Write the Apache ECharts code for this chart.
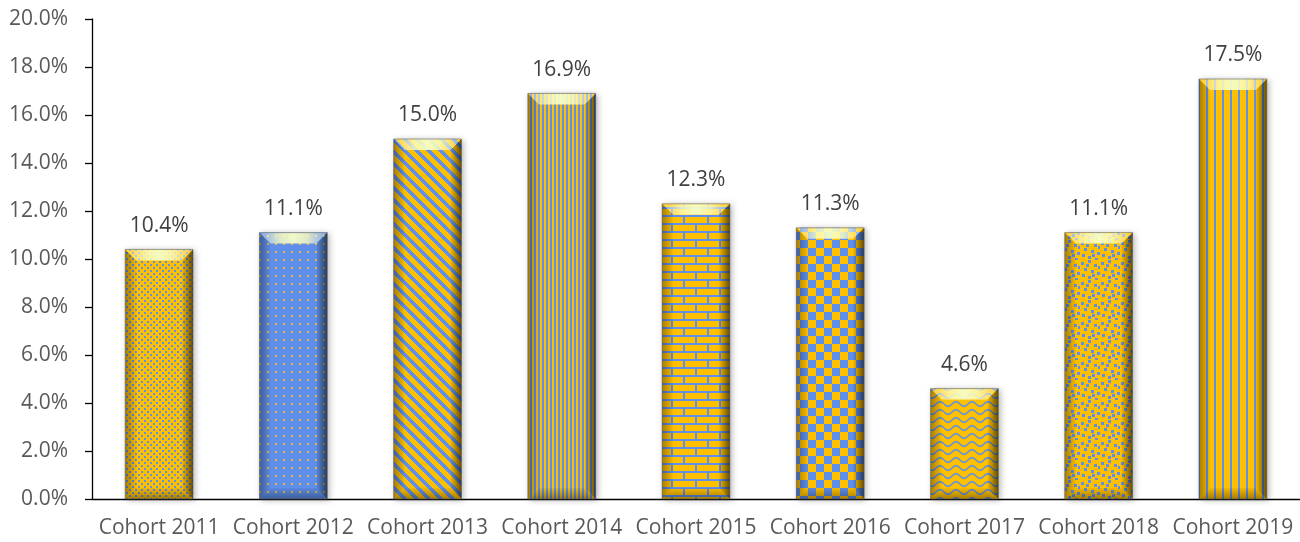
<!DOCTYPE html>
<html>
<head>
<meta charset="utf-8">
<script src="https://cdn.jsdelivr.net/npm/echarts@6/dist/echarts.min.js"></script>
<style>html,body{margin:0;padding:0;background:#fff;}#c{width:1300px;height:542px;}</style>
</head>
<body>
<div id="c"></div>
<script>
var CATEGORIES = ['Cohort 2011','Cohort 2012','Cohort 2013','Cohort 2014','Cohort 2015','Cohort 2016','Cohort 2017','Cohort 2018','Cohort 2019'];
var VALUES = [10.4, 11.1, 15.0, 16.9, 12.3, 11.3, 4.6, 11.1, 17.5];
var Y_MIN = 0, Y_MAX = 20, Y_INTERVAL = 2;

var YEL = '#FFC000', BLU = '#5F8FEA';
function tile(w, h, draw) {
  var c = document.createElement('canvas'); c.width = w; c.height = h;
  var g = c.getContext('2d'); draw(g, w, h); return c;
}
var patterns = [
  tile(6, 6, function (g) { g.fillStyle = YEL; g.fillRect(0,0,6,6); g.fillStyle = BLU; g.fillRect(0,0,2,2); g.fillRect(3,3,2,2); }),
  tile(8, 8, function (g) { g.fillStyle = BLU; g.fillRect(0,0,8,8); g.fillStyle = '#E8C040'; g.fillRect(3,3,2,2); }),
  tile(12, 12, function (g) { for (var y=0;y<12;y++) for (var x=0;x<12;x++) { g.fillStyle = ((x - y + 12) % 12 < 5) ? BLU : YEL; g.fillRect(x,y,1,1); } }),
  tile(4, 4, function (g) { g.fillStyle = YEL; g.fillRect(0,0,2,4); g.fillStyle = BLU; g.fillRect(2,0,2,4); }),
  tile(24, 16, function (g) { g.fillStyle = BLU; g.fillRect(0,0,24,16); g.fillStyle = YEL; g.fillRect(1,1,22,6); g.fillRect(0,9,11,6); g.fillRect(13,9,11,6); }),
  tile(16, 16, function (g) { g.fillStyle = YEL; g.fillRect(0,0,16,16); g.fillStyle = BLU; g.fillRect(0,0,8,8); g.fillRect(8,8,8,8); }),
  tile(16, 8, function (g) { g.fillStyle = YEL; g.fillRect(0,0,16,8); g.strokeStyle = BLU; g.lineWidth = 1.6; g.beginPath();
    for (var x=0;x<=16;x++) { var y = 4 + 2.3*Math.sin(2*Math.PI*x/16); if (x===0) g.moveTo(x,y); else g.lineTo(x,y); } g.stroke(); }),
  tile(20, 20, function (g) { g.fillStyle = YEL; g.fillRect(0,0,20,20); g.fillStyle = BLU;
    [[1,2],[8,0],[14,4],[4,8],[11,10],[17,12],[2,14],[8,16],[15,18],[18,6],[6,4],[12,14]].forEach(function(p){ g.fillRect(p[0],p[1],3,3); }); }),
  tile(8, 4, function (g) { g.fillStyle = YEL; g.fillRect(0,0,8,4); g.fillStyle = BLU; g.fillRect(6,0,2,4); })
];

var barData = VALUES.map(function (v, i) {
  return { value: v, itemStyle: { color: { image: patterns[i], repeat: 'repeat' } } };
});
var bevelData = VALUES.map(function (v, i) { return [i, v]; });

var LG = echarts.graphic.LinearGradient;
function renderBevel(params, api) {
  var idx = api.value(0), v = api.value(1);
  var t = api.coord([idx, v]), bt = api.coord([idx, 0]);
  var w = api.size([1, 0])[0] * 0.505;
  var x0 = t[0] - w / 2, x1 = t[0] + w / 2, y0 = t[1], y1 = bt[1];
  var b = Math.min(11, (y1 - y0) / 3);
  return { type: 'group', children: [
    { type: 'polygon', shape: { points: [[x0,y0],[x0+b,y0+b],[x0+b,y1-b],[x0,y1]] },
      style: { fill: new LG(0,0,1,0,[{offset:0,color:'rgba(0,0,0,0.35)'},{offset:1,color:'rgba(0,0,0,0.04)'}]) } },
    { type: 'polygon', shape: { points: [[x1,y0],[x1-b,y0+b],[x1-b,y1-b],[x1,y1]] },
      style: { fill: new LG(0,0,1,0,[{offset:0,color:'rgba(0,0,0,0.04)'},{offset:1,color:'rgba(0,0,0,0.6)'}]) } },
    { type: 'polygon', shape: { points: [[x0,y0],[x1,y0],[x1-b,y0+b],[x0+b,y0+b]] },
      style: { fill: new LG(0,0,1,0,[{offset:0,color:'rgba(255,255,230,0.2)'},{offset:0.3,color:'rgba(255,255,190,0.8)'},{offset:0.5,color:'rgba(245,255,200,0.95)'},{offset:0.7,color:'rgba(255,255,190,0.8)'},{offset:1,color:'rgba(255,255,230,0.2)'}]) } },
    { type: 'polygon', shape: { points: [[x0,y1],[x1,y1],[x1-b,y1-b],[x0+b,y1-b]] },
      style: { fill: new LG(0,0,0,1,[{offset:0,color:'rgba(0,0,0,0.04)'},{offset:1,color:'rgba(0,0,0,0.35)'}]) } },
    { type: 'rect', shape: { x: x0, y: y0, width: w, height: y1 - y0 },
      style: { fill: null, stroke: 'rgba(90,90,90,0.55)', lineWidth: 1 } }
  ] };
}

var chart = echarts.init(document.getElementById('c'), null, { renderer: 'canvas' });
chart.setOption({
  animation: false,
  backgroundColor: '#ffffff',
  grid: { left: 92, right: 0, top: 19, bottom: 43, containLabel: false },
  xAxis: {
    type: 'category', data: CATEGORIES,
    axisLine: { show: true, lineStyle: { color: '#000', width: 1.3 } },
    axisTick: { show: false },
    axisLabel: { color: '#595959', fontSize: 21, fontFamily: 'Open Sans', margin: 19, interval: 0 }
  },
  yAxis: {
    type: 'value', min: Y_MIN, max: Y_MAX, interval: Y_INTERVAL,
    splitLine: { show: false },
    axisLine: { show: true, lineStyle: { color: '#000', width: 1.3 } },
    axisTick: { show: true, length: 7, lineStyle: { color: '#000', width: 1.3 } },
    axisLabel: { color: '#595959', fontSize: 21, fontFamily: 'Open Sans', margin: 24,
      formatter: function (v) { return v.toFixed(1) + '%'; } }
  },
  series: [
    { type: 'bar', data: barData, barWidth: '50.5%',
      itemStyle: { shadowColor: 'rgba(0,0,0,0.3)', shadowBlur: 6, shadowOffsetX: 2, shadowOffsetY: 1 },
      label: { show: true, position: 'top', distance: 13, color: '#404040', fontSize: 21, fontFamily: 'Open Sans',
        formatter: function (p) { return p.value.toFixed(1) + '%'; } } },
    { type: 'custom', data: bevelData, encode: { x: 0, y: 1 }, renderItem: renderBevel, silent: true, z: 3 }
  ]
});
</script>
</body>
</html>
